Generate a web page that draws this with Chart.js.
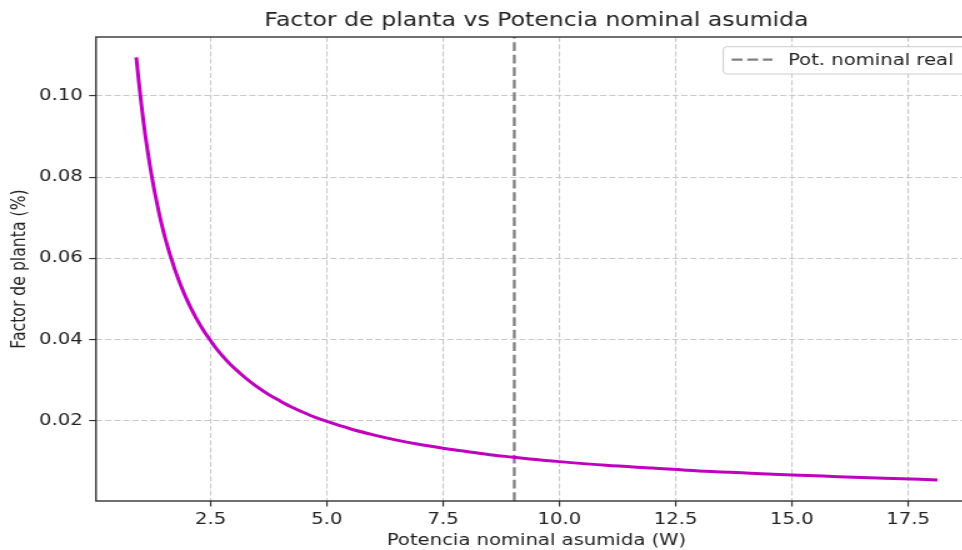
<!DOCTYPE html>
<html>
<head>
<meta charset="utf-8">
<script src="https://cdn.jsdelivr.net/npm/chart.js@4.4.0/dist/chart.umd.min.js"></script>
<style>
html, body { margin: 0; padding: 0; background: #fff; overflow: hidden; width: 962px; height: 550px; }
#wrap { position: relative; width: 962px; height: 550px; overflow: hidden; }
/* the reference is stretched sideways, so draw narrow and widen */
#chart { position: absolute; left: 0; top: 0; transform: scaleX(1.25); transform-origin: 0 0; }
</style>
</head>
<body>
<div id="wrap"><canvas id="chart" width="800" height="550"></canvas></div>
<script>
// data
const potencia = [0.90, 0.95, 1.00, 1.05, 1.10, 1.15, 1.20, 1.25, 1.30, 1.35, 1.40, 1.45, 1.50, 1.575, 1.65, 1.725, 1.80, 1.90,
  2.00, 2.125, 2.25, 2.375, 2.50, 2.625, 2.75, 2.875, 3.00, 3.25, 3.50, 3.75, 4.00, 4.25, 4.50, 4.75, 5.00, 5.50, 6.00, 6.50,
  7.00, 7.50, 8.00, 8.50, 9.00, 9.50, 10.0, 11.0, 12.0, 13.0, 14.0, 15.0, 16.0, 17.0, 18.13];
const factor = [0.1095, 0.1040, 0.0988, 0.0941, 0.0898, 0.0860, 0.0824, 0.0791, 0.0761, 0.0733, 0.0706, 0.0682, 0.0659, 0.0628, 0.0600, 0.0574, 0.0550, 0.0521,
  0.0495, 0.0466, 0.0440, 0.0417, 0.0397, 0.0377, 0.0360, 0.0344, 0.0330, 0.0305, 0.0283, 0.0264, 0.0248, 0.0233, 0.0220, 0.0208, 0.0198, 0.0180, 0.0165, 0.0152,
  0.0141, 0.0132, 0.0124, 0.0116, 0.0110, 0.0104, 0.0099, 0.0090, 0.0083, 0.0076, 0.0071, 0.0066, 0.0062, 0.0058, 0.0054];
const potNominalReal = 9.03;
const xTicks = [2.5, 5.0, 7.5, 10.0, 12.5, 15.0, 17.5];
const yTicks = [0.02, 0.04, 0.06, 0.08, 0.10];
const xRange = [0.034, 18.98];
const yRange = [0.0002, 0.1145];

const titulo = 'Factor de planta vs Potencia nominal asumida';
const xTitulo = 'Potencia nominal asumida (W)';
const yTitulo = 'Factor de planta (%)';
const leyenda = 'Pot. nominal real';

const FONT = 'DejaVu Sans';
const TXT = '#222';
const GRID = '#c9c9c9';

const curve = potencia.map((x, i) => ({ x: x, y: factor[i] }));
const vline = [{ x: potNominalReal, y: yRange[0] }, { x: potNominalReal, y: yRange[1] }];

// title over the axes, spines and legend box, matplotlib style
const framePlugin = {
  id: 'frame',
  afterDraw(chart) {
    const ctx = chart.ctx, a = chart.chartArea;
    ctx.save();
    ctx.fillStyle = TXT;
    ctx.font = '18.9px "' + FONT + '"';
    ctx.textAlign = 'center';
    ctx.textBaseline = 'middle';
    ctx.fillText(titulo, (a.left + a.right) / 2, 21.3);

    ctx.strokeStyle = '#333';
    ctx.lineWidth = 1.4;
    ctx.setLineDash([]);
    ctx.strokeRect(a.left, a.top, a.right - a.left, a.bottom - a.top);

    // legend
    const ds = chart.data.datasets[1];
    const bx = 578.6, by = 46.7, bw = 196.6, bh = 27.3;
    ctx.beginPath();
    ctx.roundRect(bx, by, bw, bh, 3);
    ctx.fillStyle = 'rgba(255,255,255,0.85)';
    ctx.fill();
    ctx.strokeStyle = '#cccccc';
    ctx.lineWidth = 1;
    ctx.stroke();
    ctx.beginPath();
    ctx.setLineDash(ds.borderDash);
    ctx.strokeStyle = ds.borderColor;
    ctx.lineWidth = ds.borderWidth;
    ctx.moveTo(585.3, 59.6);
    ctx.lineTo(618, 59.6);
    ctx.stroke();
    ctx.setLineDash([]);
    ctx.fillStyle = TXT;
    ctx.font = '15.7px "' + FONT + '"';
    ctx.textAlign = 'left';
    ctx.textBaseline = 'alphabetic';
    ctx.fillText(ds.label, 630.4, 65);
    ctx.restore();
  }
};

new Chart(document.getElementById('chart').getContext('2d'), {
  type: 'line',
  data: {
    datasets: [
      { label: '', data: curve, borderColor: '#bf00bf', borderWidth: 3, pointRadius: 0,
        cubicInterpolationMode: 'monotone', fill: false },
      { label: leyenda, data: vline, borderColor: '#808080', borderWidth: 2.3, borderDash: [8.7, 3.8],
        pointRadius: 0, fill: false }
    ]
  },
  options: {
    responsive: false,
    animation: false,
    devicePixelRatio: 1,
    layout: { padding: { left: 0, right: 18.4, top: 37, bottom: 0 } },
    plugins: {
      legend: { display: false },
      tooltip: { enabled: false },
      title: { display: false }
    },
    scales: {
      x: {
        type: 'linear', min: xRange[0], max: xRange[1],
        afterBuildTicks: s => { s.ticks = xTicks.map(v => ({ value: v })); },
        afterFit: s => { s.height = 49; },
        grid: { color: GRID, lineWidth: 1.1, tickLength: 5.5, tickColor: '#333', tickWidth: 1.2 },
        border: { display: false, dash: [5, 2.2] },
        ticks: { color: TXT, padding: 3.7, maxRotation: 0, font: { family: FONT, size: 15.7 },
          callback: v => v.toFixed(1) },
        title: { display: true, text: xTitulo, color: TXT, font: { family: FONT, size: 15.7 },
          padding: { top: 0, bottom: 0 } }
      },
      y: {
        type: 'linear', min: yRange[0], max: yRange[1],
        afterBuildTicks: s => { s.ticks = yTicks.map(v => ({ value: v })); },
        afterFit: s => { s.width = 76.8; },
        grid: { color: GRID, lineWidth: 1.1, tickLength: 5.5, tickColor: '#333', tickWidth: 1.2 },
        border: { display: false, dash: [5, 2.2] },
        ticks: { color: TXT, padding: 5, font: { family: FONT, size: 15.7 },
          callback: v => v.toFixed(2) },
        title: { display: true, text: yTitulo, color: TXT, font: { family: FONT, size: 15.7 },
          padding: { top: 6.6, bottom: 0 } }
      }
    }
  },
  plugins: [framePlugin]
});
</script>
</body>
</html>
